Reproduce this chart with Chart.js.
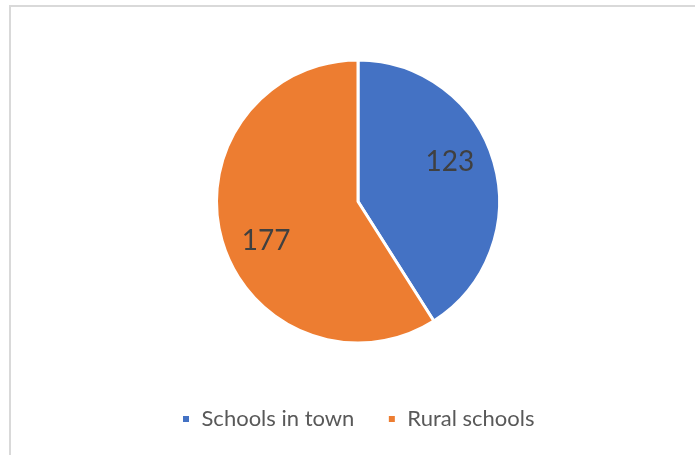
<!DOCTYPE html>
<html>
<head>
<meta charset="utf-8">
<script src="https://cdn.jsdelivr.net/npm/chart.js@4/dist/chart.umd.min.js"></script>
<style>
  html, body { margin: 0; padding: 0; background: #fff; overflow: hidden; }
  #frame {
    position: absolute; left: 9px; top: 5px; width: 720px; height: 480px;
    border: 2px solid #d9d9d9; box-sizing: border-box;
  }
  #wrap { position: absolute; left: 0; top: 0; width: 695px; height: 455px; }
</style>
</head>
<body>
<div id="frame"></div>
<div id="wrap"><canvas id="chart" width="695" height="455"></canvas></div>
<script>
const categories = ['Schools in town', 'Rural schools'];
const schoolCounts = [123, 177];
const sliceColors = ['#4472C4', '#ED7D31'];

// Draws each slice's value inside the slice
const sliceValueLabels = {
  id: 'sliceValueLabels',
  afterDatasetsDraw(chart) {
    const ctx = chart.ctx;
    const meta = chart.getDatasetMeta(0);
    ctx.save();
    ctx.font = '28px Lato, "Open Sans", sans-serif';
    ctx.fillStyle = '#404040';
    ctx.textAlign = 'center';
    ctx.textBaseline = 'middle';
    meta.data.forEach((arc, i) => {
      const p = arc.getProps(['x', 'y', 'startAngle', 'endAngle', 'outerRadius'], true);
      const mid = (p.startAngle + p.endAngle) / 2 - 0.12;
      const r = p.outerRadius * 0.705;
      ctx.fillText(String(chart.data.datasets[0].data[i]), p.x + Math.cos(mid) * r, p.y + Math.sin(mid) * r);
    });
    ctx.restore();
  }
};

new Chart(document.getElementById('chart'), {
  type: 'pie',
  data: {
    labels: categories,
    datasets: [{
      data: schoolCounts,
      backgroundColor: sliceColors,
      borderColor: '#ffffff',
      borderWidth: 3,
      radius: 141.5
    }]
  },
  options: {
    responsive: false,
    animation: false,
    layout: { padding: { top: 28, left: 21, right: 0, bottom: 15 } },
    plugins: {
      tooltip: { enabled: false },
      legend: {
        position: 'bottom',
        labels: {
          boxWidth: 9,
          boxHeight: 9,
          padding: 33,
          color: '#595959',
          font: { family: 'Lato, "Open Sans", sans-serif', size: 22 }
        }
      }
    }
  },
  plugins: [sliceValueLabels]
});
</script>
</body>
</html>
